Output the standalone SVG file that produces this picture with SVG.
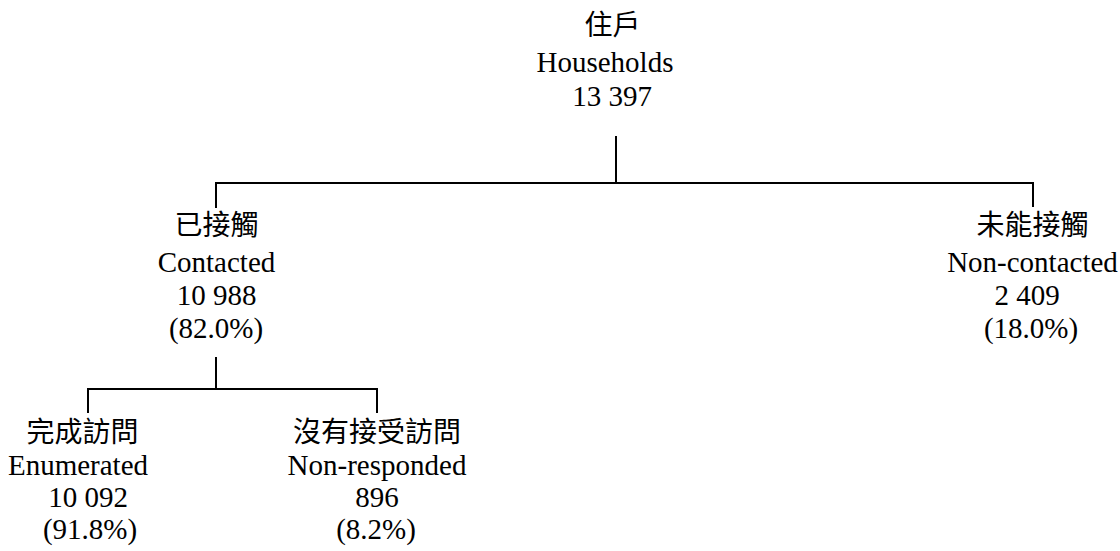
<svg xmlns="http://www.w3.org/2000/svg" width="1120" height="551" viewBox="0 0 1120 551">
<style>
.zh{font-family:"Noto Sans CJK TC","Noto Sans CJK SC",sans-serif;font-size:28px;fill:#000;text-anchor:middle}
.en{font-family:"Liberation Serif","Times New Roman",serif;font-size:29px;fill:#000;text-anchor:middle}
.ln{stroke:#000;stroke-width:2;fill:none}
</style>
<rect width="1120" height="551" fill="#fff"/>
<g id="connectors">
<path class="ln" d="M616,136V183M216,208V183H1033V207"/>
<path class="ln" d="M216,357V389M88,413V389H377V413"/>
</g>
<g id="households">
<text class="zh" x="612.5" y="35">住戶</text>
<text class="en" x="605" y="72">Households</text>
<text class="en" x="612" y="106">13 397</text>
</g>
<g id="contacted">
<text class="zh" x="216.5" y="235">已接觸</text>
<text class="en" x="216.5" y="272">Contacted</text>
<text class="en" x="216.5" y="305">10 988</text>
<text class="en" x="216" y="338">(82.0%)</text>
</g>
<g id="noncontacted">
<text class="zh" x="1032.5" y="235">未能接觸</text>
<text class="en" x="1032.5" y="272">Non-contacted</text>
<text class="en" x="1027" y="305">2 409</text>
<text class="en" x="1031" y="338">(18.0%)</text>
</g>
<g id="enumerated">
<text class="zh" x="82.5" y="442">完成訪問</text>
<text class="en" x="78" y="475">Enumerated</text>
<text class="en" x="88" y="507">10 092</text>
<text class="en" x="90" y="539">(91.8%)</text>
</g>
<g id="nonresponded">
<text class="zh" x="377" y="442">沒有接受訪問</text>
<text class="en" x="377" y="475">Non-responded</text>
<text class="en" x="377" y="507">896</text>
<text class="en" x="376" y="539">(8.2%)</text>
</g>
</svg>
